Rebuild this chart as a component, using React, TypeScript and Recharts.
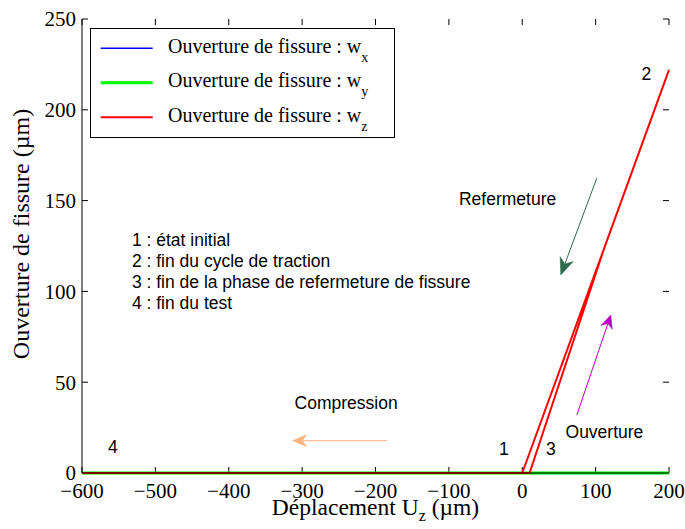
import React from "react";
import {
  LineChart,
  Line,
  XAxis,
  YAxis,
  Legend,
  ReferenceLine,
  ReferenceDot,
} from "recharts";

// path followed by the test: 1 -> 2 -> 3 -> 4
const dispUz = [0, 111, 200, 111, 10, -600];
const openWx = [0, 0, 0, 0, 0, 0];
const openWy = [0, 0, 0, 0, 0, 0];
const openWz = [0, 123, 222, 123, 0, 0];

const xTicks = [-600, -500, -400, -300, -200, -100, 0, 100, 200];
const yTicks = [0, 50, 100, 150, 200, 250];

const series = [
  { key: "wx", sub: "x", color: "#0000ff", width: 1.5 },
  { key: "wy", sub: "y", color: "#00ff00", width: 3 },
  { key: "wz", sub: "z", color: "#ff0000", width: 2 },
];

// annotations, in data coordinates
const notes = [
  "1 : état initial",
  "2 : fin du cycle de traction",
  "3 : fin de la phase de refermeture de fissure",
  "4 : fin du test",
];
const notesX = -532;
const notesY = [128.3, 116.7, 105.2, 93.6];

const labels = [
  { text: "Refermeture", x: -20, y: 151 },
  { text: "Compression", x: -240, y: 38.5 },
  { text: "Ouverture", x: 112, y: 22.7 },
  { text: "1", x: -25, y: 13.6 },
  { text: "2", x: 169, y: 219.7 },
  { text: "3", x: 39, y: 13.6 },
  { text: "4", x: -558, y: 14.3 },
];

const arrows = [
  { from: { x: 101.6, y: 162.4 }, to: { x: 52.5, y: 109 }, color: "#2e6a4c", head: 17, half: 7 },
  { from: { x: 74.4, y: 31.9 }, to: { x: 120.7, y: 87 }, color: "#bf00bf", head: 13, half: 6 },
  { from: { x: -184.5, y: 17.8 }, to: { x: -313, y: 17.8 }, color: "#ffb27f", head: 14, half: 6 },
];

const data = dispUz.map((x, i) => ({
  x,
  wx: openWx[i],
  wy: openWy[i],
  wz: openWz[i],
}));

const serif = "'Liberation Serif', 'Times New Roman', serif";
const sans = "'Liberation Sans', Arial, sans-serif";
const TICK = 6;

const fmtTick = (v: number) => (v < 0 ? "\u2212" + Math.abs(v) : String(v));

// inward tick marks at both ends of a full-span reference line
const tickMarks = (p: any) => {
  const { x1, y1, x2, y2 } = p;
  const len = Math.hypot(x2 - x1, y2 - y1) || 1;
  const ux = ((x2 - x1) / len) * TICK;
  const uy = ((y2 - y1) / len) * TICK;
  return (
    <g>
      <line x1={x1} y1={y1} x2={x1 + ux} y2={y1 + uy} stroke="#000" strokeWidth={1} />
      <line x1={x2} y1={y2} x2={x2 - ux} y2={y2 - uy} stroke="#000" strokeWidth={1} />
    </g>
  );
};

function arrowShape(color: string, head: number, half: number) {
  return (p: any) => {
    const { x1, y1, x2, y2 } = p;
    const a = Math.atan2(y2 - y1, x2 - x1);
    const c = Math.cos(a);
    const s = Math.sin(a);
    const bx = x2 - head * c;
    const by = y2 - head * s;
    const nx = x2 - head * 0.7 * c;
    const ny = y2 - head * 0.7 * s;
    const pts = [
      [x2, y2],
      [bx - half * s, by + half * c],
      [nx, ny],
      [bx + half * s, by - half * c],
    ]
      .map((q) => q.join(","))
      .join(" ");
    return (
      <g>
        <line x1={x1} y1={y1} x2={nx} y2={ny} stroke={color} strokeWidth={1} />
        <polygon points={pts} fill={color} stroke={color} strokeWidth={0.5} />
      </g>
    );
  };
}

function LegendBox() {
  return (
    <svg width={305} height={110} style={{ display: "block" }}>
      <rect x={0.5} y={0.5} width={304} height={109} fill="#fff" stroke="#000" strokeWidth={1} />
      {series.map((s, i) => {
        const cy = 20.3 + i * 34.5;
        return (
          <g key={s.key}>
            <line x1={10.7} x2={62.7} y1={cy} y2={cy} stroke={s.color} strokeWidth={s.width} />
            <text x={78} y={cy + 4.5} fontFamily={serif} fontSize={20} fill="#000">
              Ouverture de fissure : w
              <tspan dy={9} fontSize={14}>
                {s.sub}
              </tspan>
            </text>
          </g>
        );
      })}
    </svg>
  );
}

export default function App() {
  return (
    <div style={{ position: "absolute", left: 0, top: 0, background: "#fff" }}>
      <LineChart
        width={685}
        height={529}
        data={data}
        margin={{ top: 19, right: 16, left: 0, bottom: 0 }}
      >
        <XAxis
          dataKey="x"
          type="number"
          domain={[-600, 200]}
          ticks={xTicks}
          interval={0}
          tickFormatter={fmtTick}
          height={56}
          tickSize={-7}
          tickMargin={17}
          tickLine={false}
          stroke="#000"
          tick={{ fill: "#000", fontSize: 21, fontFamily: serif }}
          label={{
            content: (p: any) => {
              const vb = p.viewBox;
              return (
                <text
                  x={vb.x + vb.width / 2}
                  y={vb.y + 42}
                  textAnchor="middle"
                  fontFamily={serif}
                  fontSize={23.5}
                  fill="#000"
                >
                  Déplacement U
                  <tspan dy={6} fontSize={16}>
                    z
                  </tspan>
                  <tspan dy={-6}> (µm)</tspan>
                </text>
              );
            },
          }}
        />
        <XAxis
          xAxisId="top"
          orientation="top"
          dataKey="x"
          type="number"
          domain={[-600, 200]}
          ticks={xTicks}
          height={0}
          tickLine={false}
          tick={false}
          stroke="#000"
        />
        <YAxis
          type="number"
          domain={[0, 250]}
          ticks={yTicks}
          interval={0}
          width={82}
          tickSize={-7}
          tickMargin={13}
          tickLine={false}
          stroke="#000"
          tick={{ fill: "#000", fontSize: 21, fontFamily: serif }}
          label={{
            content: (p: any) => {
              const vb = p.viewBox;
              const cx = 21;
              const cy = vb.y + vb.height / 2 - 12;
              return (
                <text
                  x={cx}
                  y={cy}
                  transform={`rotate(-90 ${cx} ${cy})`}
                  textAnchor="middle"
                  dominantBaseline="central"
                  fontFamily={serif}
                  fontSize={24}
                  fill="#000"
                >
                  Ouverture de fissure (µm)
                </text>
              );
            },
          }}
        />
        <YAxis
          yAxisId="right"
          orientation="right"
          type="number"
          domain={[0, 250]}
          ticks={yTicks}
          width={0}
          tickLine={false}
          tick={false}
          stroke="#000"
        />
        <Legend
          layout="horizontal"
          verticalAlign="middle"
          align="center"
          wrapperStyle={{ left: 90, top: 28, width: 305, height: 110 }}
          content={() => <LegendBox />}
        />
        {xTicks.map((v) => (
          <ReferenceLine key={"xt" + v} x={v} ifOverflow="visible" shape={tickMarks} />
        ))}
        {yTicks.map((v) => (
          <ReferenceLine key={"yt" + v} y={v} ifOverflow="visible" shape={tickMarks} />
        ))}
        {arrows.map((a, i) => (
          <ReferenceLine
            key={"arrow" + i}
            segment={[a.from, a.to]}
            ifOverflow="visible"
            shape={arrowShape(a.color, a.head, a.half)}
          />
        ))}
        {labels.map((l) => (
          <ReferenceDot
            key={l.text}
            x={l.x}
            y={l.y}
            ifOverflow="visible"
            shape={(p: any) => (
              <text
                x={p.cx}
                y={p.cy}
                dy="0.36em"
                textAnchor="middle"
                fontFamily={sans}
                fontSize={17.5}
                fill="#000"
              >
                {l.text}
              </text>
            )}
          />
        ))}
        {notes.map((t, i) => (
          <ReferenceDot
            key={t}
            x={notesX}
            y={notesY[i]}
            ifOverflow="visible"
            shape={(p: any) => (
              <text
                x={p.cx}
                y={p.cy}
                dy="0.36em"
                textAnchor="start"
                fontFamily={sans}
                fontSize={17.5}
                fill="#000"
              >
                {t}
              </text>
            )}
          />
        ))}
        {series.map((s) => (
          <Line
            key={s.key}
            type="linear"
            dataKey={s.key}
            stroke={s.color}
            strokeWidth={s.width}
            dot={false}
            activeDot={false}
            isAnimationActive={false}
          />
        ))}
      </LineChart>
    </div>
  );
}
